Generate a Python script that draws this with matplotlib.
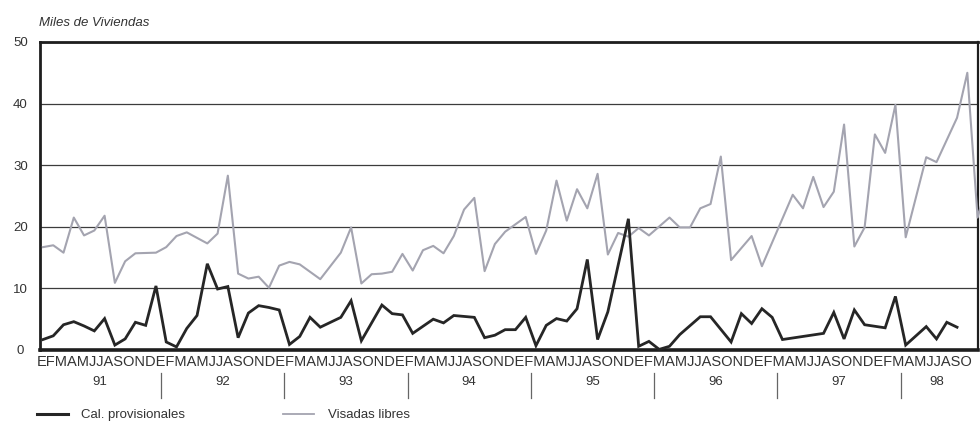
import matplotlib
matplotlib.use("Agg")
import matplotlib.pyplot as plt
import matplotlib.transforms as mtransforms
from matplotlib.lines import Line2D

plt.rcParams['font.family'] = ['Liberation Sans', 'DejaVu Sans']

# month index: 0 = Enero 1991
cal_months = [0, 1, 2, 3, 4, 5, 6, 7, 8, 9, 10, 11, 12, 13, 14, 15, 16, 17, 18, 19,
              20, 21, 22, 23, 24, 25, 26, 27, 28, 29, 30, 31, 33, 34, 35, 36, 38, 39, 40, 42,
              43, 44, 45, 46, 47, 48, 49, 50, 51, 52, 53, 54, 55, 57, 58, 59, 60, 61, 62, 64,
              65, 67, 68, 69, 70, 71, 72, 76, 77, 78, 79, 80, 82, 83, 84, 86, 87, 88, 89]
cal_values = [1.7, 2.3, 4.1, 4.6, 3.9, 3.1, 5.1, 0.8, 1.8, 4.5, 4.0, 10.4, 1.3, 0.5, 3.5, 5.6, 14.0, 9.9, 10.3, 2.0,
              6.0, 7.2, 6.9, 6.5, 0.9, 2.2, 5.3, 3.7, 4.5, 5.3, 8.0, 1.5, 7.3, 5.9, 5.7, 2.7, 5.0, 4.4, 5.6, 5.3,
              2.0, 2.4, 3.3, 3.3, 5.3, 0.7, 4.0, 5.1, 4.7, 6.7, 14.7, 1.7, 6.2, 21.3, 0.6, 1.4, 0.1, 0.6, 2.5, 5.4,
              5.4, 1.3, 5.9, 4.3, 6.7, 5.3, 1.7, 2.7, 6.1, 1.8, 6.5, 4.1, 3.6, 8.7, 0.8, 3.8, 1.8, 4.5, 3.7]

vis_months = [0, 1, 2, 3, 4, 5, 6, 7, 8, 9, 11, 12, 13, 14, 16, 17, 18, 19, 20, 21,
              22, 23, 24, 25, 27, 29, 30, 31, 32, 33, 34, 35, 36, 37, 38, 39, 40, 41, 42, 43,
              44, 45, 47, 48, 49, 50, 51, 52, 53, 54, 55, 56, 57, 58, 59, 61, 62, 63, 64, 65,
              66, 67, 69, 70, 73, 74, 75, 76, 77, 78, 79, 80, 81, 82, 83, 84, 86, 87, 89, 90,
              91, 92]
vis_values = [16.7, 17.0, 15.8, 21.5, 18.6, 19.4, 21.8, 10.9, 14.4, 15.7, 15.8, 16.7, 18.5, 19.1, 17.3, 18.9, 28.3, 12.4, 11.6, 11.9,
              10.1, 13.7, 14.3, 13.9, 11.5, 15.8, 19.9, 10.8, 12.3, 12.4, 12.7, 15.6, 12.9, 16.2, 16.9, 15.7, 18.5, 22.8, 24.7, 12.8,
              17.2, 19.2, 21.6, 15.6, 19.4, 27.5, 21.0, 26.1, 23.0, 28.6, 15.5, 19.0, 18.4, 19.8, 18.6, 21.5, 19.9, 19.9, 23.0, 23.7,
              31.4, 14.6, 18.5, 13.6, 25.2, 23.0, 28.1, 23.2, 25.7, 36.6, 16.8, 19.9, 35.0, 32.0, 39.8, 18.3, 31.3, 30.5, 37.7, 45.0,
              21.5, 27.4]

month_letters = list("EFMAMJJASOND") * 7 + list("EFMAMJJASO")
years = ['91', '92', '93', '94', '95', '96', '97', '98']
year_centers = [5.5, 17.5, 29.5, 41.5, 53.5, 65.5, 77.5, 87.0]
year_breaks = [11.5, 23.5, 35.5, 47.5, 59.5, 71.5, 83.5]

black = '#262626'
grey = '#a4a4b0'
text_c = '#333333'

fig = plt.figure(figsize=(9.8, 4.24), dpi=100)
ax = fig.add_axes([40 / 980, 74 / 424, 938 / 980, 308 / 424])

ax.plot(cal_months, cal_values, color=black, lw=2.0, clip_on=False, zorder=4,
        solid_joinstyle='miter')
ax.plot(vis_months, vis_values, color=grey, lw=1.5, clip_on=False, zorder=3)

ax.set_xlim(-0.29, 91.04)
ax.set_ylim(0, 50)
ax.set_yticks(range(0, 51, 10))
ax.set_xticks([])
ax.yaxis.grid(True, color='#3c3c3c', lw=0.9)
ax.set_axisbelow(True)
ax.tick_params(axis='y', length=0, pad=14, labelsize=9.5, labelcolor=text_c)
for lab in ax.get_yticklabels():
    lab.set_horizontalalignment('center')

for side, w in [('left', 2.0), ('bottom', 2.6), ('top', 2.0), ('right', 1.6)]:
    ax.spines[side].set_linewidth(w)
    ax.spines[side].set_color('#1e1e1e')

fig.text(39 / 980, 1 - 23 / 424, 'Miles de Viviendas', fontsize=9.5, style='italic',
         color=text_c, va='center', ha='left')

# month initials and years under the axis
months_txt = fig.text(37 / 980, 1 - 362 / 424, ''.join(month_letters), fontsize=10,
                      color=text_c, va='center', ha='left')
fig.canvas.draw()
w = months_txt.get_window_extent().width
months_txt.set_fontsize(10 * 930 / w)

trans = mtransforms.blended_transform_factory(ax.transData, fig.transFigure)
for yb in year_breaks:
    ax.add_line(Line2D([yb, yb], [1 - 373 / 424, 1 - 398 / 424], transform=trans,
                       color='#666666', lw=0.9, clip_on=False))
for yc, yl in zip(year_centers, years):
    ax.text(yc, 1 - 382 / 424, yl, transform=trans, fontsize=9.5, color=text_c,
            ha='center', va='center')

handles = [Line2D([], [], color=black, lw=2.2), Line2D([], [], color=grey, lw=1.3)]
fig.legend(handles, ['Cal. provisionales', 'Visadas libres'], ncol=2, frameon=False,
           loc='center left', bbox_to_anchor=(30 / 980, 1 - 415 / 424), borderpad=0,
           fontsize=9.5, labelcolor=text_c, handlelength=2.35, handletextpad=1.05,
           columnspacing=7.4)

fig.savefig('out.png', dpi=100)
